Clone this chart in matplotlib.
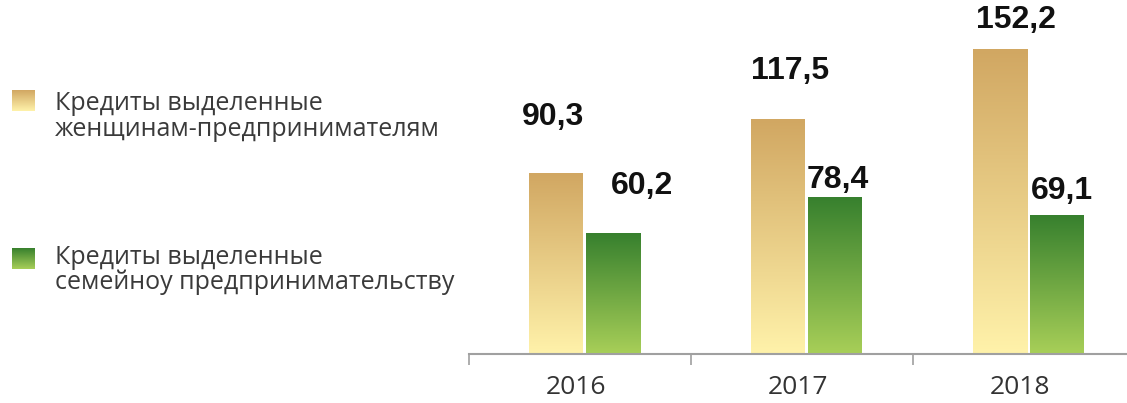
#!/usr/bin/env python3

"""Credits to women and family entrepreneurship, 2016-2018."""

import matplotlib
matplotlib.use('Agg')
import matplotlib.pyplot as plt
import numpy as np
from matplotlib.colors import LinearSegmentedColormap

years = ['2016', '2017', '2018']
women = [90.3, 117.5, 152.2]
family = [60.2, 78.4, 69.1]
labels = ['Кредиты выделенные\nженщинам-предпринимателям',
          'Кредиты выделенные\nсемейноу предпринимательству']

# gradients: bottom colour -> top colour
gold_cmap = LinearSegmentedColormap.from_list('gold', ['#fff2aa', '#d1a762'])
green_cmap = LinearSegmentedColormap.from_list('green', ['#a8cf58', '#37802e'])

# value label offsets in pixels (dx, dy) from the bar top centre
women_off = [(-3, 56), (12, 48), (16, 30)]
family_off = [(29, 48), (3, 17), (5, 25)]

W, H = 1127, 403
fig = plt.figure(figsize=(W / 100, H / 100), dpi=100)
# axes: x from 469 px, 222 px per year, baseline at 354 px, 2 px per unit
ax = fig.add_axes([469 / W, (H - 354) / H, 666 / W, 354 / H])

x = np.arange(len(years))
bw = 54 / 222
gap = 3 / 222
shift = 0.02
grad = np.linspace(0, 1, 256).reshape(-1, 1)

bars_w = ax.bar(x + shift - bw / 2 - gap / 2, women, bw, color='none', edgecolor='none')
bars_f = ax.bar(x + shift + bw / 2 + gap / 2, family, bw, color='none', edgecolor='none')
for bars, cmap in ((bars_w, gold_cmap), (bars_f, green_cmap)):
    for b in bars:
        x0, y0 = b.get_x(), b.get_y()
        ax.imshow(grad, cmap=cmap, aspect='auto', origin='lower',
                  extent=(x0, x0 + b.get_width(), y0, y0 + b.get_height()),
                  zorder=2)

ax.set_xlim(-0.5, 2.5)
ax.set_ylim(0, 177)

val_font = dict(family=['Liberation Sans', 'DejaVu Sans'], fontsize=23,
                fontweight='bold', color='#111111', ha='center', va='center')
for bars, vals, offs in ((bars_w, women, women_off), (bars_f, family, family_off)):
    for b, v, (dx, dy) in zip(bars, vals, offs):
        ax.annotate(f'{v:.1f}'.replace('.', ','),
                    (b.get_x() + b.get_width() / 2, v),
                    xytext=(dx, dy), textcoords='offset pixels', **val_font)

# axis: only the bottom line with ticks between years
for s in ('top', 'right', 'left'):
    ax.spines[s].set_visible(False)
ax.spines['bottom'].set_color('#a0a0a0')
ax.spines['bottom'].set_linewidth(1.5)
ax.set_yticks([])
ax.set_xticks([-0.5, 0.5, 1.5, 2.5])
ax.set_xticklabels([])
ax.tick_params(axis='x', length=8, width=1.2, color='#a0a0a0', direction='out')
for xi, yr in zip(x, years):
    ax.annotate(yr, (xi - 0.02, 0), xytext=(0, -34), textcoords='offset pixels',
                ha='center', va='center', fontsize=19, color='#333333',
                family=['Open Sans', 'DejaVu Sans'])

# legend drawn by hand
leg_font = dict(fontsize=18, color='#3a3a3a', family=['Open Sans', 'DejaVu Sans'],
                va='center', ha='left', linespacing=1.02)
for (ys, yt, cmap, lab) in ((90, 116.5, gold_cmap, labels[0]),
                            (248, 270, green_cmap, labels[1])):
    sq = fig.add_axes([12 / W, (H - ys - 21) / H, 23 / W, 21 / H])
    sq.imshow(grad, cmap=cmap, aspect='auto', origin='lower')
    sq.axis('off')
    fig.text(55 / W, (H - yt) / H, lab, **leg_font)

fig.savefig('out.png', dpi=100)
